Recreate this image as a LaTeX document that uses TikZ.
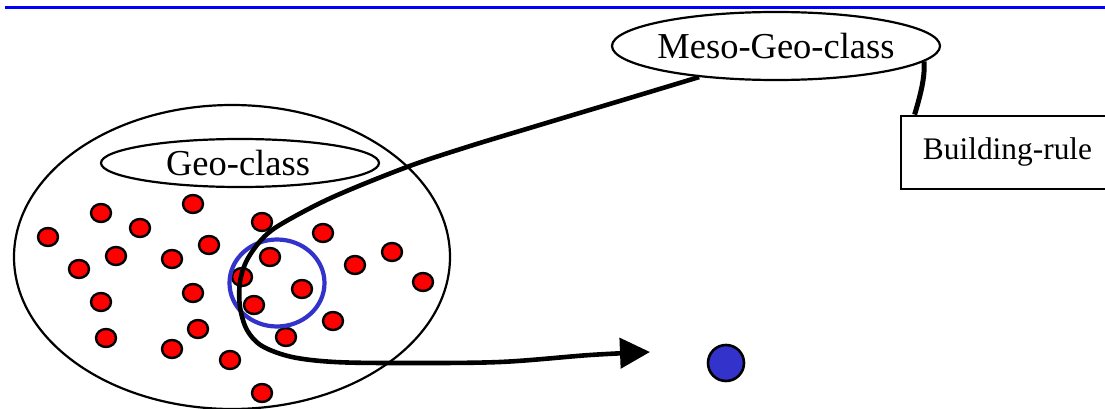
\documentclass[tikz,border=0pt]{standalone}
\usepackage{fontspec}
\setmainfont{Liberation Serif}
\usetikzlibrary{shapes.geometric,arrows.meta,calc}
\definecolor{hdrblue}{RGB}{0,0,255}
\definecolor{selblue}{RGB}{51,51,204}
\begin{document}
\begin{tikzpicture}[x=1pt,y=-1pt,
  reddot/.style={ellipse,draw=black,line width=2.4pt,fill=red,minimum width=20pt,minimum height=18pt,inner sep=0pt},
  classell/.style={ellipse,draw=black,line width=2.2pt,inner sep=0pt},
  rulebox/.style={rectangle,draw=black,line width=2.8pt,inner sep=0pt},
  linkline/.style={line width=4.6pt,draw=black}
]
\useasboundingbox (0,0) rectangle (1105,409);
\clip (0,0) rectangle (1105,409);
% header rule
\coordinate (hl) at (5,7.7);
\coordinate (hr) at (1106,7.7);
\draw[hdrblue,line width=2.8pt] (hl) -- (hr);
% big population ellipse
\node[ellipse,draw=black,line width=2.2pt,minimum width=436pt,minimum height=304pt,inner sep=0pt] (pop) at (232,257) {};
% geo-class label ellipse
\node[classell,minimum width=278pt,minimum height=48pt] (geo) at (240,163) {};
\node[font=\fontsize{36.5}{40}\selectfont,inner sep=0pt,anchor=base] (geotxt) at (238,175) {Geo-class};
% red dots
\foreach \i/\x/\y in {1/48/237,2/101/213,3/140/228,4/193/204,5/262/222,6/116/256,7/79/269,8/172/259,9/209/245,10/323/233,11/270/257,12/355/265,13/392/252,14/423/282,15/242/277,16/302/289,17/193/293,18/101/302,19/254/305,20/333/321,21/198/329,22/106/338,23/286/337,24/172/349,25/230/360,26/262/393}
  \node[reddot] (d\i) at (\x,\y) {};
% selection circle
\node[ellipse,draw=selblue,line width=4.2pt,minimum width=95pt,minimum height=87pt,inner sep=0pt] (sel) at (277,283) {};
% meso-geo-class
\node[classell,minimum width=328pt,minimum height=68pt] (meso) at (776,46) {};
\node[font=\fontsize{36.5}{40}\selectfont,inner sep=0pt,anchor=base] (mesotxt) at (776,59) {Meso-Geo-class};
% building rule box
\node[rulebox,minimum width=214pt,minimum height=73pt] (rule) at (1008,152.5) {};
\node[font=\fontsize{31.4}{36}\selectfont,inner sep=0pt] (ruletxt) at (1007.5,152) {Building-rule};
% result dot
\node[circle,draw=black,line width=2.6pt,fill=selblue,minimum size=36pt,inner sep=0pt] (res) at (726,363) {};
% connector meso -> rule
\draw[linkline,line width=5pt] (meso.-6.5) .. controls (925,75) and (922,90) .. ($(rule.north west)+(15,0)$);
% main curve
\coordinate (tip) at (650,352);
\draw[linkline,-{Triangle[length=30pt,width=30pt]}] plot[smooth,tension=0.55] coordinates {(meso.202) (633,97) (533,127) (467,147) (407,167) (333,197) (283,223) (263,238) (247,260) (240,282) (240,307) (247,330) (262,346) (292,357) (335,362) (400,363) (500,362) (590,355) (tip)};
\end{tikzpicture}
\end{document}
